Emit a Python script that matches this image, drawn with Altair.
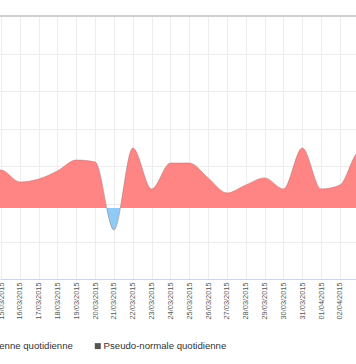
import altair as alt
import pandas as pd

# ---- data ----
dates = ["14/03/2015", "15/03/2015", "16/03/2015", "17/03/2015", "18/03/2015",
         "19/03/2015", "20/03/2015", "21/03/2015", "22/03/2015", "23/03/2015",
         "24/03/2015", "25/03/2015", "26/03/2015", "27/03/2015", "28/03/2015",
         "29/03/2015", "30/03/2015", "31/03/2015", "01/04/2015", "02/04/2015",
         "03/04/2015", "04/04/2015"]
ecart = [1.60, 2.02, 1.38, 1.54, 1.97, 2.55, 2.45, -1.17, 3.19, 1.01, 2.39,
         2.39, 1.60, 0.80, 1.22, 1.60, 1.01, 3.19, 1.01, 1.22, 2.98, 3.09]
series = ["Température moyenne quotidienne", "Pseudo-normale quotidienne"]
series_colors = ["#ff8080", "#555555"]

df = pd.DataFrame({"idx": list(range(len(dates))), "date": dates, "v": ecart})
leg = pd.DataFrame({"serie": series})

RED = "#ff8585"
BLUE = "#8ecbf7"

vmax = max(max(ecart), 0)
vmin = min(min(ecart), 0)
f = vmax / (vmax - vmin)  # where zero sits inside the area's bounding box

grad = alt.Gradient(
    gradient="linear", x1=0, x2=0, y1=0, y2=1,
    stops=[alt.GradientStop(color=RED, offset=0),
           alt.GradientStop(color=RED, offset=f),
           alt.GradientStop(color=BLUE, offset=f),
           alt.GradientStop(color=BLUE, offset=1)])

px_per_day = 18.83
xmin = 1 - 1 / px_per_day
xmax = xmin + 356 / px_per_day
ydom = [-3.777, 10.213]
ygrid = [10.213 - 2 * k for k in range(8)]

label_js = "[" + ",".join("'%s'" % d for d in dates) + "][datum.value]"

xscale = alt.Scale(domain=[xmin, xmax], nice=False, zero=False)
yscale = alt.Scale(domain=ydom, nice=False, zero=False)

xaxis = alt.Axis(values=list(range(1, 20)), labelExpr=label_js, labelAngle=270,
                 labelFontSize=7.4, labelColor="#555555", labelFont="Liberation Sans",
                 labelPadding=3, ticks=False, domainColor="#ccd6eb", domainWidth=1,
                 grid=True, gridColor="#ededed", gridWidth=1, title=None,
                 labelOverlap=False, labelBound=False, labelFlush=False)
yaxis = alt.Axis(values=ygrid, labels=False, ticks=False, domain=False,
                 grid=True, gridColor="#ededed", gridWidth=1, title=None)

base = alt.Chart(df)

area = base.mark_area(interpolate="monotone", clip=True, fill=grad, fillOpacity=1).encode(
    x=alt.X("idx:Q", scale=xscale, axis=xaxis),
    y=alt.Y("v:Q", scale=yscale, axis=yaxis),
    y2=alt.Y2(datum=0),
)

outline = base.mark_line(interpolate="monotone", clip=True, color="#9a8080",
                         strokeWidth=1, opacity=0.55).encode(
    x=alt.X("idx:Q", scale=xscale, axis=xaxis),
    y=alt.Y("v:Q", scale=yscale, axis=yaxis),
)

top_rule = alt.Chart(leg).mark_rule(color="#d0d0d0", strokeWidth=2).encode(
    y=alt.value(0), x=alt.value(0), x2=alt.value(356))

legend_layer = alt.Chart(leg).mark_point(shape="square", filled=True, opacity=0).encode(
    color=alt.Color("serie:N",
                    scale=alt.Scale(domain=series, range=series_colors),
                    legend=alt.Legend(orient="none", legendX=-86, legendY=325,
                                      direction="horizontal", columns=2, title=None,
                                      symbolType="square", symbolSize=36,
                                      symbolStrokeWidth=0, symbolOpacity=1,
                                      labelFontSize=9.6, labelColor="#333333",
                                      labelFont="Liberation Sans", labelOffset=1,
                                      columnPadding=20, padding=0, labelLimit=400)),
    x=alt.value(-50), y=alt.value(-50),
)

chart = alt.layer(area, outline, top_rule, legend_layer).properties(
    width=356, height=263,
    autosize=alt.AutoSizeParams(type="none"),
    padding={"left": 0, "right": 0, "top": 16, "bottom": 85},
).configure_view(stroke=None)

chart.save("out.html", embed_options={"renderer": "svg", "actions": False})
